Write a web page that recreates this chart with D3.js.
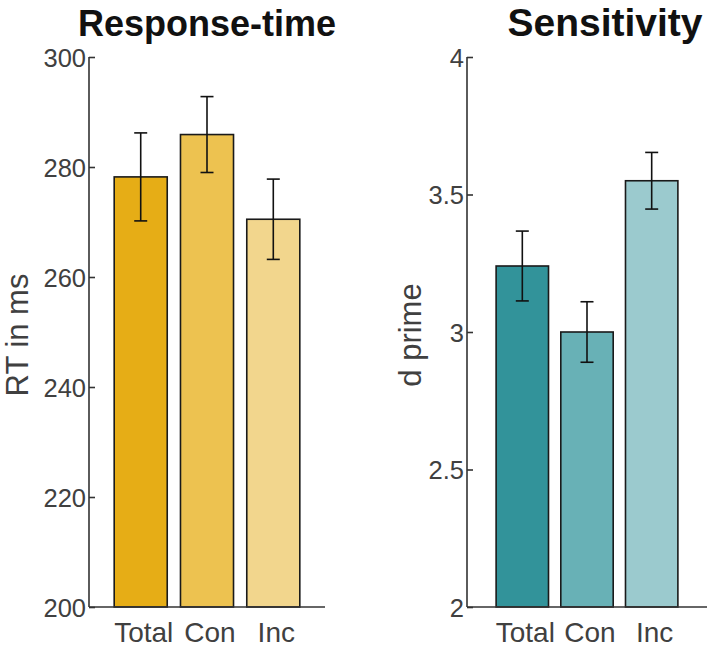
<!DOCTYPE html>
<html><head><meta charset="utf-8">
<script src="https://cdn.jsdelivr.net/npm/d3@7"></script>
<style>body{margin:0;background:#fff}svg{display:block}</style>
</head><body>
<svg id="c" width="709" height="652"></svg>
<script>
const categories = ["Total", "Con", "Inc"];
const rtValues = [278.2, 285.9, 270.5];
const rtErrors = [8.0, 6.9, 7.3];
const rtTicks = [200, 220, 240, 260, 280, 300];
const dpValues = [3.24, 3.0, 3.55];
const dpErrors = [0.127, 0.11, 0.103];
const dpTicks = [2, 2.5, 3, 3.5, 4];
const rtColors = ["#E6AD16", "#EDC250", "#F2D68D"];
const dpColors = ["#32939A", "#68B1B6", "#9BCACE"];

const svg = d3.select("#c");
const axisColor = "#333333";
const textColor = "#404040";
const font = "'Liberation Sans', Arial, Helvetica, sans-serif";

function panel(opts) {
  const g = svg.append("g");
  const y = d3.scaleLinear().domain(opts.domain).range([607, 57]);
  const x = d3.scaleBand().domain(categories).range(opts.xRange)
    .paddingInner(opts.pi).paddingOuter(opts.po);
  const x0 = opts.xRange[0], x1 = opts.xRange[1];

  // bars
  g.selectAll("rect.bar").data(categories).enter().append("rect")
    .attr("x", d => x(d))
    .attr("width", x.bandwidth())
    .attr("y", (d, i) => y(opts.values[i]))
    .attr("height", (d, i) => y(opts.domain[0]) - y(opts.values[i]))
    .attr("fill", (d, i) => opts.colors[i])
    .attr("stroke", "#1a1a1a").attr("stroke-width", 1.6);

  // error bars
  const cw = 6.5;
  const eg = g.selectAll("g.err").data(categories).enter().append("g")
    .attr("stroke", "#111").attr("stroke-width", 1.6);
  eg.append("line")
    .attr("x1", d => x(d) + x.bandwidth() / 2).attr("x2", d => x(d) + x.bandwidth() / 2)
    .attr("y1", (d, i) => y(opts.values[i] - opts.errors[i]))
    .attr("y2", (d, i) => y(opts.values[i] + opts.errors[i]));
  [1, -1].forEach(s => {
    eg.append("line")
      .attr("x1", d => x(d) + x.bandwidth() / 2 - cw).attr("x2", d => x(d) + x.bandwidth() / 2 + cw)
      .attr("y1", (d, i) => y(opts.values[i] + s * opts.errors[i]))
      .attr("y2", (d, i) => y(opts.values[i] + s * opts.errors[i]));
  });

  // y axis
  const ya = d3.axisLeft(y).tickValues(opts.ticks).tickSize(-6).tickPadding(3)
    .tickFormat(d3.format("~g"));
  const yg = g.append("g").attr("transform", `translate(${x0},0)`).call(ya);
  yg.select(".domain").attr("stroke", axisColor).attr("stroke-width", 1.6)
    .attr("d", `M0,57V607`);
  yg.selectAll(".tick line").attr("stroke", axisColor).attr("stroke-width", 1.6);
  yg.selectAll(".tick text").attr("fill", textColor)
    .style("font-family", font).style("font-size", "25.5px").attr("dy", "0.36em");

  // x axis
  const xa = d3.axisBottom(x).tickSize(0).tickPadding(15);
  const xg = g.append("g").attr("transform", "translate(0,607)").call(xa);
  xg.select(".domain").attr("stroke", axisColor).attr("stroke-width", 1.6)
    .attr("d", `M${x0},0H${x1}`);
  xg.selectAll(".tick text").attr("fill", textColor)
    .style("font-family", font).style("font-size", "28px").attr("dx", "3");

  // y label
  g.append("text")
    .attr("transform", `translate(${opts.ylabX},335) rotate(-90)`)
    .attr("text-anchor", "middle")
    .attr("fill", textColor)
    .style("font-family", font).style("font-size", "31px")
    .text(opts.ylabel);

  // title
  g.append("text")
    .attr("x", opts.titleX).attr("y", 36)
    .attr("text-anchor", "middle")
    .attr("fill", "#111")
    .style("font-family", font).style("font-size", opts.titleSize).style("font-weight", "bold")
    .text(opts.title);
}

panel({
  domain: [200, 300], ticks: rtTicks, values: rtValues, errors: rtErrors,
  colors: rtColors, xRange: [89, 325], pi: 0.2, po: 0.38,
  ylabel: "RT in ms", ylabX: 28, title: "Response-time", titleX: 207, titleSize: "36px"
});
panel({
  domain: [2, 4], ticks: dpTicks, values: dpValues, errors: dpErrors,
  colors: dpColors, xRange: [467, 707], pi: 0.19, po: 0.45,
  ylabel: "d prime", ylabX: 421, title: "Sensitivity", titleX: 605, titleSize: "39px"
});
</script>
</body></html>
